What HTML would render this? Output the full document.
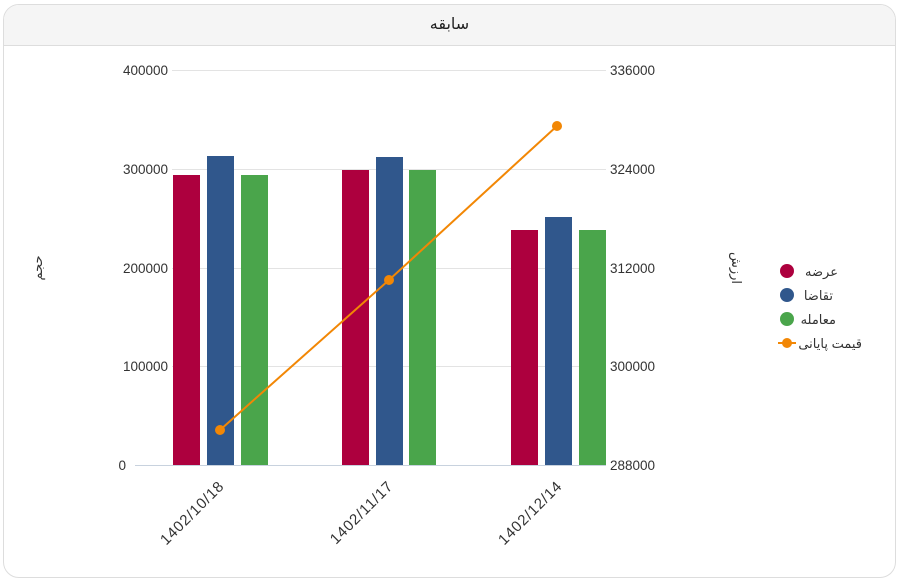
<!DOCTYPE html><html><head><meta charset="utf-8"><style>
body{margin:0;background:#fff;font-family:"Liberation Sans","DejaVu Sans",sans-serif;}
.card{position:absolute;left:3px;top:4px;width:891px;height:572px;border:1px solid #ddd;border-radius:16px;overflow:hidden;}
.hd{height:40px;background:#f5f5f5;border-bottom:1px solid #ddd;text-align:center;line-height:40px;font-size:16px;color:#222;}
</style></head><body>
<div class="card"><div class="hd">سابقه</div></div>
<svg style="position:absolute;left:0;top:0" width="901" height="581" font-family="Liberation Sans, DejaVu Sans, sans-serif" font-size="13.5" fill="#333">
<g stroke="#e3e3e3" stroke-width="1">
<line x1="172" x2="606" y1="70.5" y2="70.5"/><line x1="172" x2="606" y1="169.5" y2="169.5"/><line x1="172" x2="606" y1="268.5" y2="268.5"/><line x1="172" x2="606" y1="366.5" y2="366.5"/>
</g>
<line x1="135" x2="606" y1="465.5" y2="465.5" stroke="#c8d2de"/>
<g text-anchor="end"><text x="168" y="75">400000</text><text x="168" y="174">300000</text><text x="168" y="273">200000</text><text x="168" y="371">100000</text><text x="126" y="470">0</text></g>
<g><text x="610" y="75">336000</text><text x="610" y="174">324000</text><text x="610" y="273">312000</text><text x="610" y="371">300000</text><text x="610" y="470">288000</text></g>
<text transform="translate(42,268) rotate(-90)" text-anchor="middle" font-size="13">حجم</text>
<text transform="translate(732,268) rotate(90)" text-anchor="middle" font-size="13">ارزش</text>
<g fill="#ad003e"><rect x="173" y="175" width="27" height="290"/><rect x="342" y="170" width="27" height="295"/><rect x="511" y="230" width="27" height="235"/></g>
<g fill="#30578c"><rect x="207" y="156" width="27" height="309"/><rect x="376" y="157" width="27" height="308"/><rect x="545" y="217" width="27" height="248"/></g>
<g fill="#4aa54b"><rect x="241" y="175" width="27" height="290"/><rect x="409" y="170" width="27" height="295"/><rect x="579" y="230" width="27" height="235"/></g>
<polyline points="220,430 389,280 557,126" fill="none" stroke="#f28705" stroke-width="2"/>
<g fill="#f28705"><circle cx="220" cy="430" r="5"/><circle cx="389" cy="280" r="5"/><circle cx="557" cy="126" r="5"/></g>
<g text-anchor="end" font-size="15" letter-spacing="0.8"><text transform="translate(225,487) rotate(-45)">1402/10/18</text><text transform="translate(394,487) rotate(-45)">1402/11/17</text><text transform="translate(563,487) rotate(-45)">1402/12/14</text></g>
<circle cx="787" cy="271" r="7" fill="#ad003e"/><circle cx="787" cy="295" r="7" fill="#30578c"/><circle cx="787" cy="319" r="7" fill="#4aa54b"/>
<line x1="778" x2="796" y1="343" y2="343" stroke="#f28705" stroke-width="2"/><circle cx="787" cy="343" r="5" fill="#f28705"/>
<g text-anchor="end" font-size="13"><text x="838" y="276">عرضه</text><text x="833" y="300">تقاضا</text><text x="836" y="324">معامله</text><text x="862" y="348">قیمت پایانی</text></g>
</svg>
</body></html>
